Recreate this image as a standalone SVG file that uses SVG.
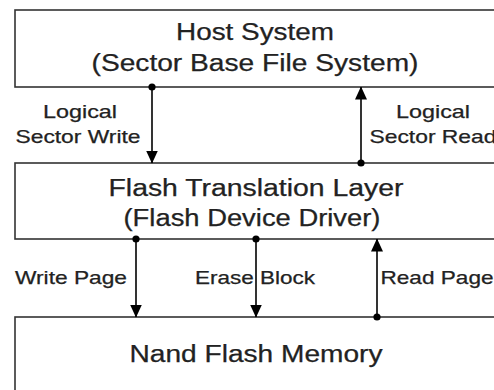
<svg xmlns="http://www.w3.org/2000/svg" width="494" height="390" viewBox="0 0 494 390">
<defs>
<style>
.box{fill:#fff;stroke:#333;stroke-width:1.6}
.t{font-family:"Liberation Sans",Arial,sans-serif;fill:#222;text-anchor:middle;stroke:#222;stroke-width:0.25}
.big{font-size:23px}
.lab{font-size:18.5px}
.c{stroke:#000;stroke-width:1.6;fill:none;marker-end:url(#ah);marker-start:url(#dot)}
</style>
<marker id="ah" markerUnits="userSpaceOnUse" markerWidth="13" markerHeight="12" viewBox="0 0 13 12" refX="12.5" refY="6" orient="auto">
<path d="M0,0 L13,6 L0,12 Z" fill="#000"/>
</marker>
<marker id="dot" markerUnits="userSpaceOnUse" markerWidth="8" markerHeight="8" viewBox="0 0 8 8" refX="4" refY="4">
<circle cx="4" cy="4" r="3.6" fill="#000"/>
</marker>
</defs>
<rect width="494" height="390" fill="#fff"/>
<g id="host">
<rect class="box" x="15" y="10" width="490" height="77"/>
<text class="t big" x="255" y="40" textLength="158" lengthAdjust="spacingAndGlyphs">Host System</text>
<text class="t big" x="255" y="71" textLength="327" lengthAdjust="spacingAndGlyphs">(Sector Base File System)</text>
</g>
<g id="ftl">
<rect class="box" x="15" y="163" width="490" height="76"/>
<text class="t big" x="256" y="196" textLength="295" lengthAdjust="spacingAndGlyphs">Flash Translation Layer</text>
<text class="t big" x="252" y="226" textLength="257" lengthAdjust="spacingAndGlyphs">(Flash Device Driver)</text>
</g>
<g id="nand">
<rect class="box" x="15" y="317" width="490" height="90"/>
<text class="t big" x="256" y="362" textLength="253" lengthAdjust="spacingAndGlyphs">Nand Flash Memory</text>
</g>
<g id="connectors">
<line class="c" x1="152" y1="87" x2="152" y2="163"/>
<line class="c" x1="361" y1="163" x2="361" y2="87"/>
<line class="c" x1="136" y1="239" x2="136" y2="317"/>
<line class="c" x1="256" y1="239" x2="256" y2="317"/>
<line class="c" x1="377" y1="317" x2="377" y2="239"/>
</g>
<g id="labels">
<text class="t lab" x="80" y="118" textLength="74" lengthAdjust="spacingAndGlyphs">Logical</text>
<text class="t lab" x="78" y="143" textLength="125" lengthAdjust="spacingAndGlyphs">Sector Write</text>
<text class="t lab" x="433" y="118" textLength="74" lengthAdjust="spacingAndGlyphs">Logical</text>
<text class="t lab" x="433" y="143" textLength="127" lengthAdjust="spacingAndGlyphs">Sector Read</text>
<text class="t lab" x="71" y="284" textLength="112" lengthAdjust="spacingAndGlyphs">Write Page</text>
<text class="t lab" x="255" y="284" textLength="120" lengthAdjust="spacingAndGlyphs">Erase Block</text>
<text class="t lab" x="437" y="284" textLength="113" lengthAdjust="spacingAndGlyphs">Read Page</text>
</g>
</svg>
